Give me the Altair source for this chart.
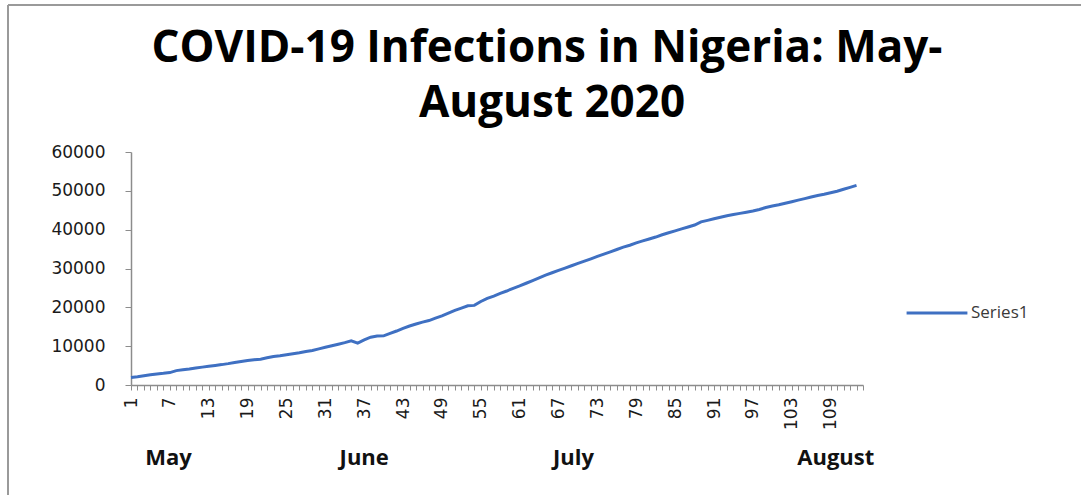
import altair as alt
import pandas as pd

# Daily cumulative confirmed COVID-19 cases, day 1 = May 1
cases = [
    1950, 2150, 2400, 2620, 2840, 3000, 3200, 3700, 3900, 4100,
    4350, 4600, 4850, 5050, 5250, 5500, 5800, 6050, 6300, 6500,
    6650, 7000, 7350, 7550, 7800, 8050, 8300, 8650, 8900, 9300,
    9700, 10100, 10500, 10900, 11400, 10800, 11600, 12300, 12600, 12650,
    13300, 13900, 14600, 15200, 15700, 16200, 16600, 17200, 17800, 18500,
    19200, 19800, 20400, 20500, 21500, 22300, 22900, 23600, 24200, 24900,
    25500, 26200, 26900, 27600, 28300, 28900, 29500, 30100, 30700, 31300,
    31900, 32500, 33100, 33700, 34300, 34900, 35500, 36000, 36600, 37100,
    37600, 38100, 38700, 39200, 39700, 40200, 40700, 41200, 42000, 42400,
    42800, 43200, 43600, 43900, 44200, 44500, 44800, 45200, 45700, 46100,
    46400, 46800, 47200, 47600, 48000, 48400, 48800, 49100, 49500, 49900,
    50400, 50900, 51400,
]
days = list(range(1, len(cases) + 1))
series_name = ["Series1"] * len(cases)

month_names = ["May", "June", "July", "August"]
month_label_day = [6.8, 37.0, 69.3, 109.8]

title_lines = ["COVID-19 Infections in Nigeria: May-", "August 2020"]
y_ticks = [0, 10000, 20000, 30000, 40000, 50000, 60000]
x_axis_days = list(range(1, 115))

df = pd.DataFrame({"day": days, "cases": cases, "series": series_name})
months = pd.DataFrame({"month": month_names, "day": month_label_day})

BLUE = "#3F70C2"
AXIS_GRAY = "#8C8C8C"

x_scale = alt.Scale(domain=[1, 114], nice=False, zero=False)

line = alt.Chart(df).mark_line(strokeWidth=3, clip=False).encode(
    x=alt.X(
        "day:Q",
        scale=x_scale,
        axis=alt.Axis(
            values=x_axis_days,
            tickCount=len(x_axis_days),
            labelExpr="(datum.value - 1) % 6 == 0 ? datum.value : ''",
            labelAngle=270,
            labelOverlap=False,
            labelFont="DejaVu Sans",
            labelFontSize=17,
            labelColor="#1a1a1a",
            labelPadding=7,
            tickSize=5,
            tickColor=AXIS_GRAY,
            domainColor=AXIS_GRAY,
            domainWidth=1.5,
            grid=False,
            title=None,
        ),
    ),
    y=alt.Y(
        "cases:Q",
        scale=alt.Scale(domain=[0, 60000], nice=False),
        axis=alt.Axis(
            values=y_ticks,
            format="d",
            labelFont="DejaVu Sans",
            labelFontSize=17,
            labelColor="#1a1a1a",
            labelPadding=20,
            tickSize=6,
            tickColor=AXIS_GRAY,
            domainColor=AXIS_GRAY,
            domainWidth=1.5,
            grid=False,
            title=None,
        ),
    ),
    color=alt.Color(
        "series:N",
        scale=alt.Scale(range=[BLUE]),
        legend=alt.Legend(
            title=None,
            orient="none",
            legendX=774,
            legendY=129,
            symbolType="stroke",
            symbolSize=3700,
            symbolStrokeWidth=3,
            labelFont="Open Sans",
            labelFontSize=17,
            labelColor="#3a3a3a",
            labelOffset=2,
        ),
    ),
)

month_text = alt.Chart(months).mark_text(
    font="Open Sans", fontWeight="bold", fontSize=22, color="#111111",
    baseline="middle", align="center", clip=False,
).encode(
    x=alt.X("day:Q", scale=x_scale),
    y=alt.value(306),
    text="month:N",
)

title1 = alt.Chart(pd.DataFrame({"t": [title_lines[0]]})).mark_text(
    font="Open Sans", fontWeight="bold", fontSize=44, color="#000000",
    baseline="middle", align="center",
).encode(x=alt.value(416), y=alt.value(-103), text="t:N")

title2 = alt.Chart(pd.DataFrame({"t": [title_lines[1]]})).mark_text(
    font="Open Sans", fontWeight="bold", fontSize=44, color="#000000",
    baseline="middle", align="center",
).encode(x=alt.value(421), y=alt.value(-48), text="t:N")

one = pd.DataFrame({"a": [0]})
top_border = alt.Chart(one).mark_rule(color="#9a9a9a", strokeWidth=2).encode(
    x=alt.value(-123), x2=alt.value(960), y=alt.value(-147)
)
left_border = alt.Chart(one).mark_rule(color="#9a9a9a", strokeWidth=2).encode(
    x=alt.value(-123), y=alt.value(-147), y2=alt.value(350)
)

chart = alt.layer(top_border, left_border, title1, title2, line, month_text).properties(
    width=732,
    height=233,
    autosize=alt.AutoSizeParams(type="none"),
    padding={"left": 131, "top": 152, "right": 218, "bottom": 110},
).configure(
    background="white",
    view=alt.ViewConfig(stroke=None),
)

chart.save("out.html", embed_options={"renderer": "svg", "actions": False})
